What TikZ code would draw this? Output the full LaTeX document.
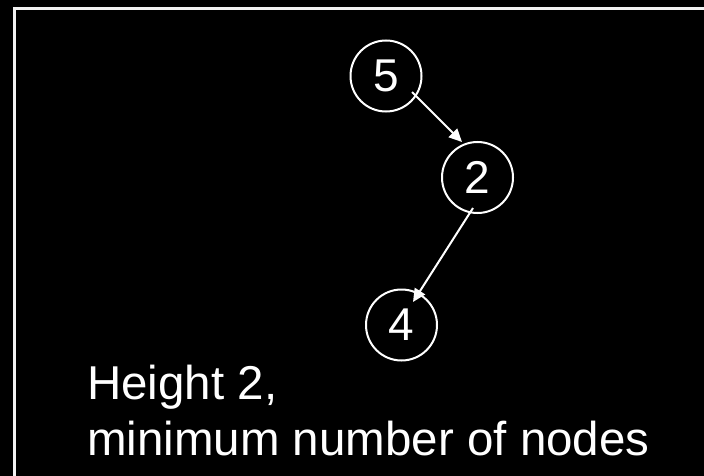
\documentclass[tikz,border=0pt]{standalone}
\usepackage{fontspec}
\setmainfont{Liberation Sans}
\usetikzlibrary{arrows.meta,calc}
\begin{document}
\begin{tikzpicture}[x=1pt,y=-1pt,
  treenode/.style={draw=white,line width=2pt,circle,minimum size=71pt,inner sep=0pt,
    text=white,font=\fontsize{46}{50}\selectfont},
  arr/.style={draw=white,line width=2pt,-{Triangle[length=13pt,width=12pt]}},
  label/.style={text=white,anchor=base west,inner sep=0pt,font=\fontsize{47.5}{56}\selectfont}]
\useasboundingbox (0,0) rectangle (704,476);
\clip (0,0) rectangle (704,476);
\fill[black] (0,0) rectangle (704,476);
\draw[white!95!black,line width=2.5pt] (14.5,8.7) rectangle (740,520);
\node[treenode] (n5) at (386,76) {5};
\node[treenode] (n2) at (477.5,177.5) {2};
\node[treenode] (n4) at (401.5,325) {4};
\draw[arr] ($(n5)+(26,16)$) -- ($(n2)+(-15.5,-35.5)$);
\draw[arr] ($(n2)+(-4.5,30.5)$) -- ($(n4)+(11.5,-23)$);
\node[label] (t1) at (87,399) {Height 2,};
\node[label] (t2) at (87,455) {minimum number of nodes};
\end{tikzpicture}
\end{document}
